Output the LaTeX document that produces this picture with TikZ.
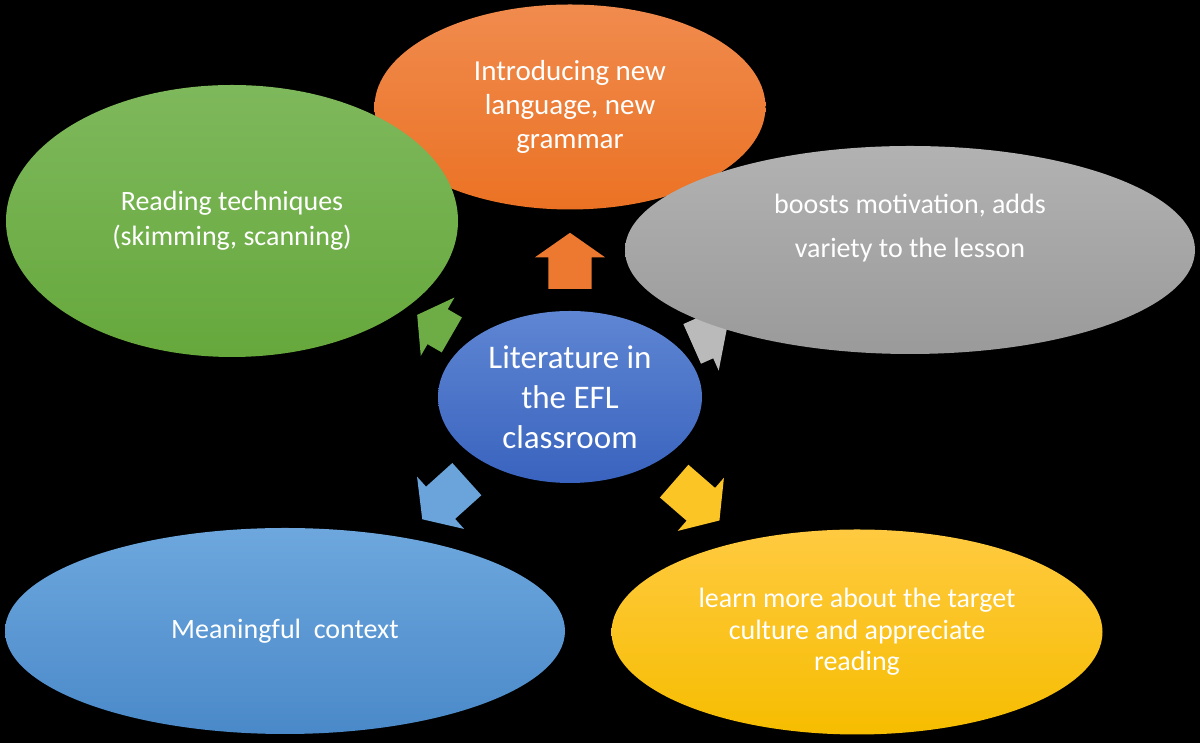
\documentclass[tikz,border=0pt]{standalone}
\usepackage{fontspec}
\setmainfont{Carlito}
\usetikzlibrary{shapes.geometric, shapes.arrows}
\definecolor{introTop}{HTML}{F08B4E}
\definecolor{introBot}{HTML}{EB7224}
\definecolor{readTop}{HTML}{7EB85C}
\definecolor{readBot}{HTML}{66A83C}
\definecolor{boostTop}{HTML}{B2B2B2}
\definecolor{boostBot}{HTML}{9A9A9A}
\definecolor{litTop}{HTML}{5F86D3}
\definecolor{litBot}{HTML}{3963BE}
\definecolor{meanTop}{HTML}{6DA7DD}
\definecolor{meanBot}{HTML}{4A89C9}
\definecolor{learnTop}{HTML}{FFCA40}
\definecolor{learnBot}{HTML}{F6BD00}

\begin{document}
\begin{tikzpicture}[x=1pt, y=1pt,
    bubble/.style={ellipse, inner sep=0pt, align=center, text=white, font=\fontsize{28}{35}\selectfont},
    blockarr/.style={single arrow, inner xsep=0pt, inner ysep=21.5pt, single arrow head extend=13.5pt, single arrow tip angle=110, minimum height=56pt, anchor=tail}]
  \fill[black] (0,0) rectangle (1200,743);
  \node[blockarr, fill=introBot!95!white, rotate=90] (aIntro) at (570,454) {};
  \node[blockarr, fill=readBot!95!white, rotate=150, minimum height=40pt, inner ysep=20pt] (aRead) at (452,408) {};
  \node[blockarr, fill=boostTop!90!white, rotate=24, minimum height=38pt] (aBoost) at (692,399) {};
  \node[blockarr, fill=meanTop!90!meanBot, rotate=222, minimum height=60pt] (aMean) at (467,264) {};
  \node[blockarr, fill=learnTop!60!learnBot, rotate=-41, minimum height=60pt] (aLearn) at (674,262) {};
  \node[bubble, minimum width=391pt, minimum height=205pt, top color=introTop, bottom color=introBot, font=\fontsize{29}{34}\selectfont] (intro) at (570,636) {Introducing new\\language, new\\grammar};
  \node[bubble, minimum width=452pt, minimum height=272pt, top color=readTop, bottom color=readBot] (read) at (232,522) {Reading techniques\\(skimming, scanning)};
  \node[bubble, minimum width=570pt, minimum height=208pt, top color=boostTop, bottom color=boostBot, font=\fontsize{28}{44}\selectfont] (boost) at (910,493) {boosts motivation, adds\\variety to the lesson\\\rule[-4pt]{0pt}{4pt}};
  \node[bubble, minimum width=264pt, minimum height=172pt, top color=litTop, bottom color=litBot, font=\fontsize{33}{40}\selectfont] (lit) at (570,346) {Literature in\\the EFL\\classroom};
  \node[bubble, minimum width=560pt, minimum height=206pt, top color=meanTop, bottom color=meanBot] (mean) at (285,112) {Meaningful\ \ context};
  \node[bubble, minimum width=491pt, minimum height=205pt, top color=learnTop, bottom color=learnBot, font=\fontsize{28}{31.5}\selectfont] (learn) at (857,111) {learn more about the target\\culture and appreciate\\reading};
\end{tikzpicture}
\end{document}
